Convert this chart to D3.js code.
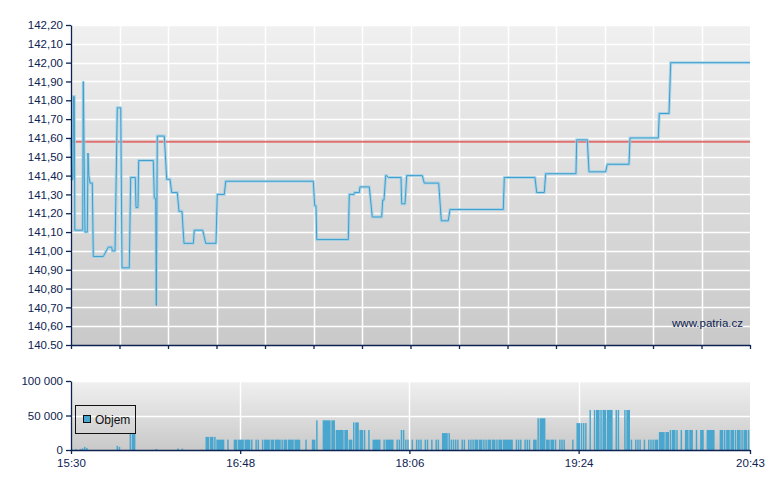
<!DOCTYPE html>
<html>
<head>
<meta charset="utf-8">
<script src="https://cdn.jsdelivr.net/npm/d3@7"></script>
<style>
  body { margin: 0; background: #ffffff; }
</style>
</head>
<body>
<div id="chart"></div>
<script>
// session
const sessionStart = "15:30",
    sessionEnd = "20:43";

// price (step changes)
const priceTimes = ["15:30:00","15:30:28","15:30:55","15:31:09","15:31:31","15:31:45","15:35:24","15:35:40","15:36:27","15:37:31",
    "15:37:50","15:38:12","15:38:46","15:39:49","15:40:17","15:44:53","15:47:12","15:48:46","15:49:02","15:50:17",
    "15:51:21","15:52:55","15:53:31","15:56:52","15:57:31","15:59:38","15:59:58","16:00:53","16:01:12","16:07:56",
    "16:08:24","16:09:03","16:09:19","16:09:47","16:13:01","16:14:07","16:15:38","16:16:25","16:19:00","16:19:47",
    "16:21:10","16:22:05","16:26:23","16:26:50","16:30:43","16:32:06","16:36:50","16:37:26","16:40:40","16:41:19",
    "17:21:42","17:22:20","17:22:56","17:23:16","17:37:50","17:38:17","17:40:27","17:40:41","17:42:54","17:43:13",
    "17:47:30","17:48:53","17:53:13","17:53:41","17:54:17","17:55:04","17:55:32","17:56:16","18:02:07","18:02:27",
    "18:03:58","18:04:45","18:11:56","18:12:52","18:19:30","18:20:42","18:23:55","18:24:42","18:49:17","18:49:44",
    "19:03:53","19:04:40","19:08:10","19:08:49","19:22:47","19:23:07","19:28:00","19:28:47","19:36:29","19:37:13",
    "19:47:13","19:47:41","20:00:44","20:01:11","20:05:40","20:06:27","20:43:00"];
const priceValues = [141.60,141.38,141.38,141.82,141.82,141.11,141.11,141.90,141.10,141.10,
    141.52,141.40,141.36,141.36,140.97,140.97,141.02,141.02,141.00,141.00,
    141.76,141.76,140.91,140.91,141.39,141.39,141.23,141.23,141.48,141.48,
    141.28,141.28,140.71,141.61,141.61,141.38,141.38,141.31,141.31,141.21,
    141.21,141.04,141.04,141.11,141.11,141.04,141.04,141.30,141.30,141.37,
    141.37,141.24,141.24,141.06,141.06,141.30,141.30,141.31,141.31,141.34,
    141.34,141.18,141.18,141.27,141.27,141.40,141.40,141.39,141.39,141.25,
    141.25,141.40,141.40,141.36,141.36,141.16,141.16,141.22,141.22,141.39,
    141.39,141.31,141.31,141.41,141.41,141.59,141.59,141.42,141.42,141.46,
    141.46,141.60,141.60,141.73,141.73,142.00,142.00];

const refPrice = 141.58;

// volume bars: from, to, volume
const volStart = ["15:30","15:32","15:34","15:35","15:36","15:37","15:51","15:52","15:57","15:58",
    "16:09","16:19","16:21","16:32","16:34","16:36","16:37","16:42","16:45","16:47",
    "16:50","16:53","16:55","16:56","16:58","16:59","17:02","17:04","17:07","17:08",
    "17:10","17:13","17:18","17:21","17:23","17:26","17:30","17:32","17:36","17:38",
    "17:40","17:41","17:43","17:45","17:47","17:49","17:54","17:55","18:00","18:01",
    "18:02","18:03","18:04","18:05","18:07","18:09","18:10","18:11","18:13","18:14",
    "18:16","18:18","18:19","18:21","18:24","18:25","18:26","18:27","18:28","18:30",
    "18:31","18:33","18:34","18:35","18:36","18:38","18:40","18:41","18:42","18:44",
    "18:46","18:47","18:49","18:55","18:56","18:57","18:59","19:00","19:01","19:03",
    "19:05","19:06","19:09","19:11","19:13","19:15","19:16","19:17","19:21","19:23",
    "19:25","19:26","19:27","19:29","19:31","19:32","19:34","19:35","19:37","19:41",
    "19:42","19:45","19:46","19:48","19:50","19:51","19:52","19:54","19:56","19:57",
    "19:58","19:59","20:01","20:04","20:06","20:07","20:09","20:11","20:13","20:15",
    "20:18","20:20","20:23","20:29","20:31","20:32","20:34","20:36","20:37","20:39",
    "20:40","20:42"];
const volEnd = ["15:31","15:33","15:35","15:36","15:37","15:38","15:52","15:53","15:58","16:00",
    "16:10","16:20","16:22","16:34","16:36","16:37","16:41","16:43","16:47","16:50",
    "16:53","16:54","16:56","16:57","16:59","17:02","17:04","17:07","17:08","17:10",
    "17:13","17:16","17:19","17:23","17:24","17:30","17:32","17:36","17:38","17:40",
    "17:41","17:43","17:45","17:46","17:48","17:53","17:55","17:59","18:01","18:02",
    "18:03","18:04","18:05","18:06","18:08","18:10","18:11","18:12","18:14","18:15",
    "18:17","18:19","18:20","18:24","18:25","18:26","18:27","18:28","18:29","18:31",
    "18:32","18:34","18:35","18:36","18:38","18:40","18:41","18:42","18:44","18:46",
    "18:47","18:49","18:54","18:56","18:57","18:58","19:00","19:01","19:02","19:05",
    "19:06","19:09","19:11","19:13","19:14","19:16","19:17","19:18","19:22","19:25",
    "19:26","19:27","19:28","19:30","19:32","19:34","19:35","19:37","19:40","19:42",
    "19:43","19:46","19:48","19:49","19:51","19:52","19:53","19:55","19:57","19:58",
    "19:59","20:01","20:04","20:06","20:07","20:09","20:10","20:12","20:15","20:17",
    "20:19","20:22","20:27","20:31","20:32","20:34","20:36","20:37","20:39","20:40",
    "20:42","20:43"];
const volValue = [2000,1500,1500,2500,4500,3000,6000,4500,24000,24000,
    1500,2000,2000,19000,19000,19000,15000,15000,15000,15000,
    15000,15000,15000,15000,15000,15000,15000,15000,15000,15000,
    15000,15000,15000,15000,43000,43000,43000,29000,29000,15000,
    40000,40000,29000,29000,29000,15000,15000,15000,15000,15000,
    29000,29000,15000,15000,15000,15000,15000,15000,15000,15000,
    15000,15000,15000,24500,24500,15000,15000,15000,15000,15000,
    15000,15000,15000,15000,15000,15000,15000,15000,15000,15000,
    15000,15000,15000,15000,15000,15000,15000,15000,15000,15000,
    46000,46000,15000,15000,15000,15000,15000,15000,15000,39000,
    39000,39000,39000,58000,58000,58000,58000,58000,58000,58000,
    58000,58000,58000,15000,15000,15000,15000,15000,15000,15000,
    15000,15000,26000,26000,29000,29000,29000,29000,29000,29000,
    29000,29000,29000,29000,29000,29000,29000,29000,29000,29000,
    29000,29000];

// axis ticks
const priceTicks = [140.5,140.6,140.7,140.8,140.9,141.0,141.1,141.2,141.3,141.4,141.5,141.6,141.7,141.8,141.9,142.0,142.1,142.2];
const priceTickLabels = ["140.50","140,60","140,70","140,80","140,90","141,00","141,10","141,20","141,30","141,40",
    "141,50","141,60","141,70","141,80","141,90","142,00","142,10","142,20"];
const volTicks = [0, 50000, 100000];
const volTickLabels = ["0", "50 000", "100 000"];
const timeTickLabels = ["15:30", "16:48", "18:06", "19:24", "20:43"];

const width = 780,
    height = 490;
const left = 71,
    right = 750;
const priceTop = 25,
    priceBottom = 345,
    volTop = 381,
    volBottom = 450;

const navy = "#0d2352";
const barColor = "#49a7cf";
const font = "'Liberation Sans', Arial, sans-serif";

const parseSec = d3.timeParse("%H:%M:%S");
const parseMin = d3.timeParse("%H:%M");

const t0 = parseMin(sessionStart),
    t1 = parseMin(sessionEnd);

const x = d3.scaleTime()
    .domain([t0, t1])
    .range([left, right]);

const y = d3.scaleLinear()
    .domain([140.5, 142.2])
    .range([priceBottom, priceTop]);

const yVol = d3.scaleLinear()
    .domain([0, 100000])
    .range([volBottom, volTop]);

const svg = d3.select("#chart")
    .append("svg")
    .attr("width", width)
    .attr("height", height)
    .style("font-family", font);

const grad = svg.append("defs")
    .append("linearGradient")
    .attr("id", "plotBg")
    .attr("x1", 0).attr("y1", 0)
    .attr("x2", 0).attr("y2", 1);
grad.append("stop").attr("offset", "0%").attr("stop-color", "#f0f0f0");
grad.append("stop").attr("offset", "100%").attr("stop-color", "#c9c9c9");

// ---------- price panel ----------
svg.append("rect")
    .attr("x", left)
    .attr("y", priceTop)
    .attr("width", right - left)
    .attr("height", priceBottom - priceTop)
    .attr("fill", "url(#plotBg)");

// 14 equal time sections
const gridTimes = d3.range(15).map(function(i) { return new Date(+t0 + i * (t1 - t0) / 14) });

svg.append("g")
    .selectAll("line")
    .data(priceTicks.slice(1))
    .join("line")
    .attr("x1", left)
    .attr("x2", right)
    .attr("y1", function(d) { return Math.round(y(d)) + 0.5 })
    .attr("y2", function(d) { return Math.round(y(d)) + 0.5 })
    .attr("stroke", "#ffffff")
    .attr("stroke-width", 1.5);

svg.append("g")
    .selectAll("line")
    .data(gridTimes.slice(1, 14))
    .join("line")
    .attr("x1", function(d) { return Math.round(x(d)) + 0.5 })
    .attr("x2", function(d) { return Math.round(x(d)) + 0.5 })
    .attr("y1", priceTop)
    .attr("y2", priceBottom)
    .attr("stroke", "#ffffff")
    .attr("stroke-width", 1.5);

// reference line
svg.append("line")
    .attr("x1", left)
    .attr("x2", right)
    .attr("y1", y(refPrice))
    .attr("y2", y(refPrice))
    .attr("stroke", "#e05c5c")
    .attr("stroke-opacity", 0.85)
    .attr("stroke-width", 2);

const priceData = priceTimes.map(function(t, i) { return { t: parseSec(t), p: priceValues[i] } });

const line = d3.line()
    .x(function(d) { return x(d.t) })
    .y(function(d) { return y(d.p) });

svg.append("path")
    .datum(priceData)
    .attr("d", line)
    .attr("fill", "none")
    .attr("stroke", "#9fd0e6")
    .attr("stroke-opacity", 0.8)
    .attr("stroke-width", 3);

svg.append("path")
    .datum(priceData)
    .attr("d", line)
    .attr("fill", "none")
    .attr("stroke", "#3f9fcd")
    .attr("stroke-width", 1);

svg.append("text")
    .attr("x", 743)
    .attr("y", 327)
    .attr("text-anchor", "end")
    .attr("fill", navy)
    .style("font-size", "11.5px")
    .text("www.patria.cz");

const yAxis = svg.append("g")
    .attr("transform", `translate(${left},0)`)
    .call(d3.axisLeft(y)
        .tickValues(priceTicks)
        .tickFormat(function(d, i) { return priceTickLabels[i] })
        .tickSize(5)
        .tickSizeOuter(0)
        .tickPadding(3));

const xAxis = svg.append("g")
    .attr("transform", `translate(0,${priceBottom})`)
    .call(d3.axisBottom(x)
        .tickValues(gridTimes)
        .tickFormat("")
        .tickSize(4)
        .tickSizeOuter(0));

// ---------- volume panel ----------
svg.append("rect")
    .attr("x", left)
    .attr("y", volTop)
    .attr("width", right - left)
    .attr("height", volBottom - volTop)
    .attr("fill", "url(#plotBg)");

svg.append("g")
    .selectAll("line")
    .data(volTicks.slice(1))
    .join("line")
    .attr("x1", left)
    .attr("x2", right)
    .attr("y1", function(d) { return Math.round(yVol(d)) + 0.5 })
    .attr("y2", function(d) { return Math.round(yVol(d)) + 0.5 })
    .attr("stroke", "#ffffff")
    .attr("stroke-width", 1.5);

const timeTicks = timeTickLabels.map(function(d) { return parseMin(d) });

svg.append("g")
    .selectAll("line")
    .data(timeTicks.slice(1, 4))
    .join("line")
    .attr("x1", function(d) { return Math.round(x(d)) + 0.5 })
    .attr("x2", function(d) { return Math.round(x(d)) + 0.5 })
    .attr("y1", volTop)
    .attr("y2", volBottom)
    .attr("stroke", "#ffffff")
    .attr("stroke-width", 1.5);

const volData = volStart.map(function(s, i) {
    return { from: parseMin(s), to: parseMin(volEnd[i]), v: volValue[i] }
});

svg.append("g")
    .selectAll("rect")
    .data(volData)
    .join("rect")
    .attr("x", function(d) { return x(d.from) })
    .attr("y", function(d) { return yVol(d.v) })
    .attr("width", function(d) { return Math.max(0.8, x(d.to) - x(d.from) - 0.7) })
    .attr("height", function(d) { return volBottom - yVol(d.v) })
    .attr("fill", barColor);

// legend
const legend = svg.append("g");
legend.append("rect")
    .attr("x", 75.5)
    .attr("y", 405.5)
    .attr("width", 60)
    .attr("height", 28)
    .attr("fill", "none")
    .attr("stroke", "#111111");
legend.append("rect")
    .attr("x", 83.5)
    .attr("y", 415.5)
    .attr("width", 7)
    .attr("height", 7)
    .attr("fill", barColor)
    .attr("stroke", "#111111");
legend.append("text")
    .attr("x", 95)
    .attr("y", 424)
    .attr("fill", "#111111")
    .style("font-size", "12px")
    .text("Objem");

const vAxis = svg.append("g")
    .attr("transform", `translate(${left},0)`)
    .call(d3.axisLeft(yVol)
        .tickValues(volTicks)
        .tickFormat(function(d, i) { return volTickLabels[i] })
        .tickSize(5)
        .tickSizeOuter(0)
        .tickPadding(3));

const tAxis = svg.append("g")
    .attr("transform", `translate(0,${volBottom})`)
    .call(d3.axisBottom(x)
        .tickValues(timeTicks)
        .tickFormat(function(d, i) { return timeTickLabels[i] })
        .tickSize(4)
        .tickSizeOuter(0)
        .tickPadding(5));

[yAxis, xAxis, vAxis, tAxis].forEach(function(g) {
    g.attr("color", navy)
        .attr("font-family", font)
        .attr("font-size", 11.5);
    g.selectAll("path, line").attr("stroke-width", 1.3);
});
</script>
</body>
</html>
